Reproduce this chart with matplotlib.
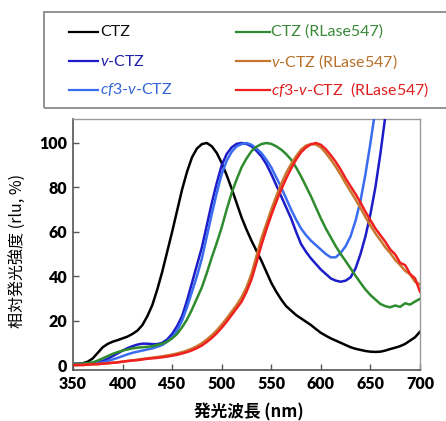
import matplotlib
matplotlib.use("Agg")
import matplotlib.pyplot as plt
from matplotlib.lines import Line2D
from matplotlib.patches import Rectangle

plt.rcParams['font.family'] = ['Lato', 'Noto Sans CJK JP', 'DejaVu Sans']
plt.rcParams['mathtext.fontset'] = 'custom'
plt.rcParams['mathtext.rm'] = 'Lato'
plt.rcParams['mathtext.it'] = 'Lato:italic'
plt.rcParams['mathtext.bf'] = 'Lato:bold'

wavelength = [350, 355, 360, 365, 370, 375, 380, 385, 390, 395,
              400, 405, 410, 415, 420, 425, 430, 435, 440, 445,
              450, 455, 460, 465, 470, 475, 480, 485, 490, 495,
              500, 505, 510, 515, 520, 525, 530, 535, 540, 545,
              550, 555, 560, 565, 570, 575, 580, 585, 590, 595,
              600, 605, 610, 615, 620, 625, 630, 635, 640, 645,
              650, 655, 660, 665, 670, 675, 680, 685, 690, 695, 700]

ctz = [0.5, 0.5, 0.8, 1.5, 3, 5.5, 8, 9.5, 10.5, 11.2,
       12, 12.8, 14, 15.5, 18, 22, 27, 34, 42, 51,
       60, 69.5, 79, 87, 93.5, 97.5, 99.5, 100, 98.5, 95.5,
       91, 85.5, 79.5, 73, 66.5, 61, 56, 51.5, 47, 42,
       37, 33, 29.5, 26.5, 24.5, 22.5, 21, 19.5, 18, 16.2,
       14.5, 13.2, 12, 11, 10, 9, 8, 7.3, 6.8, 6.3,
       6, 5.9, 6, 6.5, 7.2, 7.8, 8.5, 9.5, 11, 12.5, 15]

v_ctz = [0.5, 0.5, 0.5, 0.5, 0.7, 1, 1.8, 2.8, 4, 5.2,
         6.5, 7.6, 8.5, 9.2, 9.6, 9.6, 9.4, 9.4, 10, 11.5,
         14, 17.5, 22, 29, 37, 45, 53, 63, 73, 82,
         90, 95, 98, 99.6, 100, 99.6, 98.5, 96.5, 94, 90.5,
         86, 81, 76, 71, 66, 60, 54.5, 51, 48, 45.5,
         43, 41, 39, 38, 37.5, 38, 39.5, 43.5, 50, 58,
         68, 80, 95, 112, 130, 145, 160, 175, 190, 205, 220]

cf3_v_ctz = [0.5, 0.5, 0.5, 0.5, 0.6, 0.8, 1.2, 1.8, 2.5, 3.2,
             4, 4.8, 5.5, 6, 6.5, 7, 7.5, 8.2, 9, 10.5,
             12.5, 15.5, 20, 26, 33, 40, 48, 58, 68, 77.5,
             86, 92, 96, 98.5, 99.5, 100, 99.2, 97.5, 95.5, 92.5,
             89, 84.5, 80, 75, 70, 65.5, 61.5, 58.5, 56, 54,
             52, 50, 48.5, 48.5, 50.5, 53.5, 58, 65, 74, 86,
             100, 115, 130, 145, 160, 175, 190, 205, 220, 235, 250]

ctz_rlase = [0.5, 0.5, 0.6, 0.8, 1.2, 2, 3, 4, 5, 5.8,
             6.5, 7, 7.5, 7.8, 8, 8.2, 8.5, 9, 9.6, 10.5,
             12, 14, 17, 20.5, 25, 30, 35, 41.5, 48.5, 55,
             62, 70, 77.5, 83.5, 89, 93, 96.3, 98.3, 99.5, 100,
             99.6, 98.5, 97, 95, 92.5, 89, 85, 80.5, 76, 71,
             66, 61.5, 57.5, 53.5, 50, 46.8, 43.5, 40.2, 37, 34,
             31.5, 29.5, 27.5, 26.5, 26, 26.8, 26.2, 27.8, 27.2, 28.6, 29.8]

v_ctz_rlase = [0, 0, 0, 0.2, 0.3, 0.4, 0.6, 0.8, 1, 1.2,
               1.5, 1.8, 2.1, 2.4, 2.7, 3, 3.3, 3.6, 3.9, 4.3,
               4.7, 5.2, 5.8, 6.5, 7.4, 8.5, 9.8, 11.5, 13.4, 15.6,
               18.2, 21, 24, 27, 30.5, 35, 41, 49, 57, 63.5,
               70, 76, 81.5, 86.5, 90.5, 94, 97, 98.8, 99.5, 99.3,
               98, 95.5, 92.5, 89.3, 85.7, 81.8, 78.2, 74.5, 70.7, 66.6,
               62.8, 59.3, 56.2, 53, 50.4, 47.3, 45, 42.4, 40.8, 37.5, 36.3]

cf3_v_ctz_rlase = [0, 0, 0, 0.2, 0.3, 0.4, 0.6, 0.8, 1, 1.2,
                   1.5, 1.8, 2, 2.2, 2.5, 2.8, 3, 3.2, 3.5, 3.8,
                   4.2, 4.6, 5.2, 5.8, 6.6, 7.6, 8.8, 10.4, 12.2, 14.3,
                   16.8, 19.5, 22.5, 25.5, 28.5, 33, 38.5, 46, 54, 61,
                   67.5, 73.5, 79, 84, 88.5, 92.5, 95.8, 98, 99.4, 100,
                   99.2, 97.2, 94.5, 91.5, 88, 84, 80.5, 77, 73.2, 69,
                   65.2, 61.5, 58.5, 55.5, 52, 49.8, 46, 45, 41, 39, 33]

series_labels = [r'CTZ', r'$\it{v}$-CTZ', r'$\it{cf3}$-$\it{v}$-CTZ',
                 r'CTZ (RLase547)', r'$\it{v}$-CTZ (RLase547)',
                 r'$\it{cf3}$-$\it{v}$-CTZ  (RLase547)']
series_values = [ctz, v_ctz, cf3_v_ctz, ctz_rlase, v_ctz_rlase, cf3_v_ctz_rlase]
line_colors = ['#000000', '#1c1cc8', '#3a6cf0', '#2e8b2e', '#c8782e', '#f02020']
text_colors = ['#111111', '#1f1fa8', '#3464d8', '#3a8a3a', '#b8702a', '#e02020']

x_ticks = [350, 400, 450, 500, 550, 600, 650, 700]
y_ticks = [0, 20, 40, 60, 80, 100]

W, H = 446, 421
fig = plt.figure(figsize=(W / 100, H / 100), dpi=100)
ax = fig.add_axes([73 / W, 1 - 370 / H, (420 - 73) / W, (370 - 119) / H])

order = [0, 3, 2, 1, 4, 5]
for i in order:
    ax.plot(wavelength, series_values[i], color=line_colors[i], lw=1.8,
            solid_joinstyle='round', zorder=2 + i)

ax.set_xlim(350, 700)
ax.set_ylim(-2.25, 110.8)
ax.set_xticks(x_ticks)
ax.set_yticks(y_ticks)
ax.tick_params(direction='in', length=4, width=1, color='#555555',
               labelsize=11.5, pad=4)
for lab in ax.get_xticklabels() + ax.get_yticklabels():
    lab.set_fontweight('heavy')
for s in ['left', 'bottom']:
    ax.spines[s].set_color('#555555')
    ax.spines[s].set_linewidth(1.2)
for s in ['top', 'right']:
    ax.spines[s].set_color('#9a9a9a')
    ax.spines[s].set_linewidth(1.0)

fig.text(249 / W, 1 - 412 / H, '発光波長 (nm)', ha='center', va='center',
         fontsize=12, fontweight='bold',
         family=['Noto Sans CJK JP', 'DejaVu Sans'])
fig.text(18 / W, 1 - 251 / H, '相対発光強度 (rlu, %)', ha='center', va='center',
         rotation=90, fontsize=11.5,
         family=['Noto Sans CJK JP', 'DejaVu Sans'])

# legend box
fig.patches.append(Rectangle((44 / W, 1 - 108 / H), (470 - 44) / W, (108 - 12) / H,
                             transform=fig.transFigure, fill=False,
                             edgecolor='#8a8a8a', lw=1.3, clip_on=False))
row_y = [31.5, 61.5, 90]
col_line = [(69, 98), (236, 270)]
col_text = [100, 271]
for i, lab in enumerate(series_labels):
    c, r = divmod(i, 3)
    yy = 1 - row_y[r] / H
    fig.add_artist(Line2D([col_line[c][0] / W, col_line[c][1] / W], [yy, yy],
                          transform=fig.transFigure, color=line_colors[i], lw=1.6))
    fig.text(col_text[c] / W, yy, lab, ha='left', va='center', fontsize=11.5,
             color=text_colors[i])

fig.savefig('out.png', dpi=100)
